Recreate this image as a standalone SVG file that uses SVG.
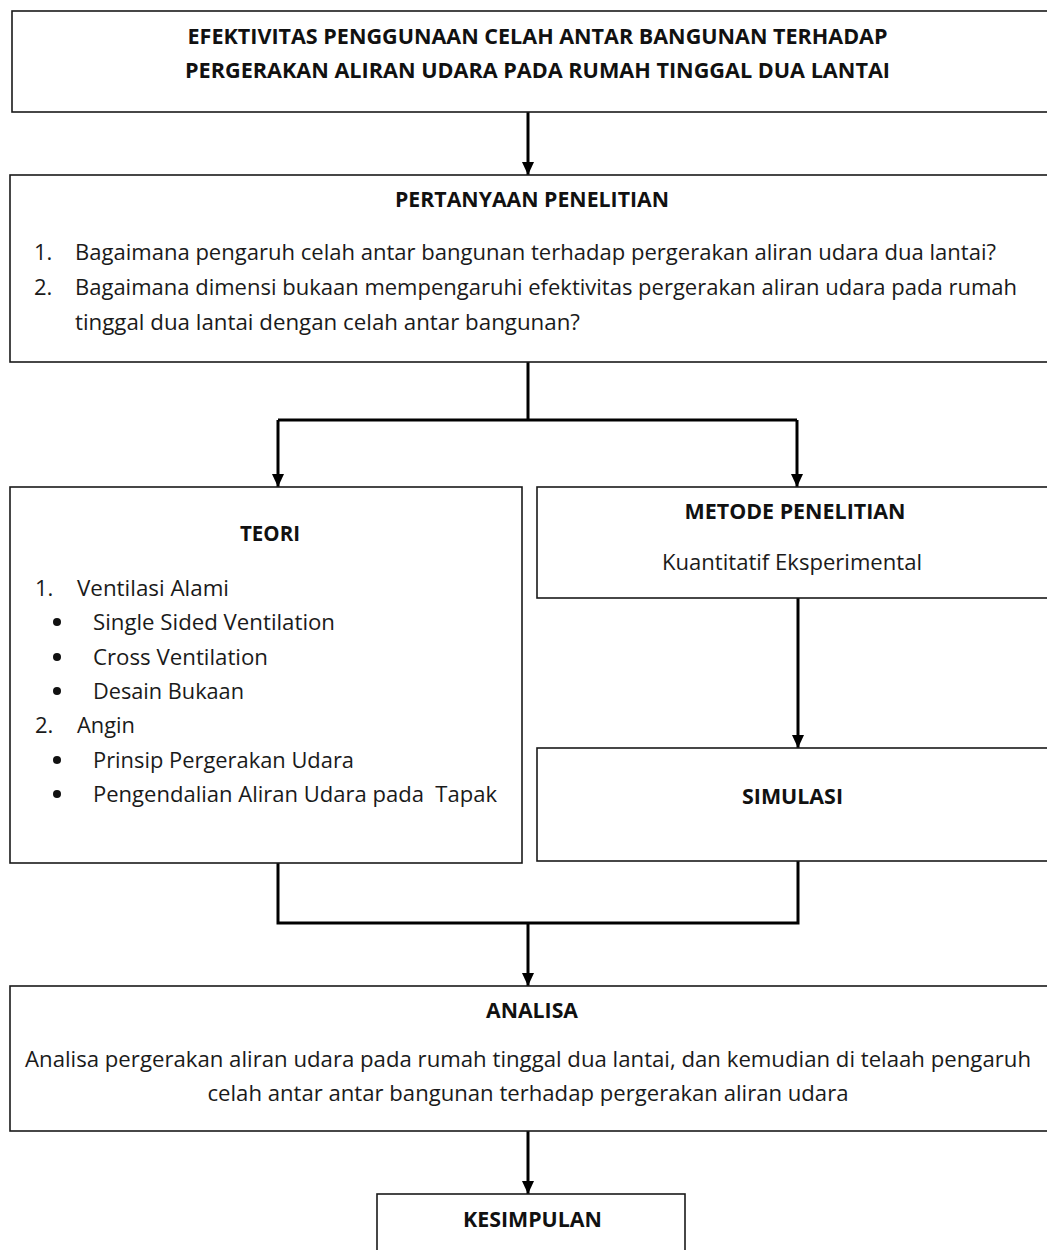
<svg xmlns="http://www.w3.org/2000/svg" width="1047" height="1250" viewBox="0 0 1047 1250">
<style>
.box{fill:#fff;stroke:#1a1a1a;stroke-width:1.6}
.con{fill:none;stroke:#000;stroke-width:3;stroke-linejoin:miter}
.t{font-family:"Open Sans","Noto Sans","Liberation Sans",sans-serif;font-size:22px;fill:#1a1a1a}
.b{font-weight:bold;fill:#111}
.c{text-anchor:middle}
</style>
<defs>
<marker id="ah" markerUnits="userSpaceOnUse" markerWidth="12" markerHeight="13" viewBox="0 0 12 13" refX="6" refY="13" orient="0">
<path d="M0,0 L12,0 L6,13 z" fill="#000"/>
</marker>
</defs>
<rect width="1047" height="1250" fill="#fff"/>

<g id="connectors">
<path class="con" d="M528,112 V175" marker-end="url(#ah)"/>
<path class="con" d="M528,362 V420 M278,420 H797"/>
<path class="con" d="M278,420 V487" marker-end="url(#ah)"/>
<path class="con" d="M797,420 V487" marker-end="url(#ah)"/>
<path class="con" d="M798,598 V748" marker-end="url(#ah)"/>
<path class="con" d="M278,863 V923 H798 V861"/>
<path class="con" d="M528,923 V986" marker-end="url(#ah)"/>
<path class="con" d="M528,1131 V1194" marker-end="url(#ah)"/>
</g>

<g id="judul">
<rect class="box" x="12" y="11" width="1050" height="101"/>
<text class="t b c" x="537.5" y="44" textLength="700" lengthAdjust="spacingAndGlyphs">EFEKTIVITAS PENGGUNAAN CELAH ANTAR BANGUNAN TERHADAP</text>
<text class="t b c" x="537.5" y="78" textLength="705" lengthAdjust="spacingAndGlyphs">PERGERAKAN ALIRAN UDARA PADA RUMAH TINGGAL DUA LANTAI</text>
</g>

<g id="pertanyaan">
<rect class="box" x="10" y="175" width="1052" height="187"/>
<text class="t b c" x="532" y="207" textLength="274" lengthAdjust="spacingAndGlyphs">PERTANYAAN PENELITIAN</text>
<text class="t" x="34" y="260">1.</text>
<text class="t" x="75" y="260" textLength="921" lengthAdjust="spacingAndGlyphs">Bagaimana pengaruh celah antar bangunan terhadap pergerakan aliran udara dua lantai?</text>
<text class="t" x="34" y="295">2.</text>
<text class="t" x="75" y="295" textLength="942" lengthAdjust="spacingAndGlyphs">Bagaimana dimensi bukaan mempengaruhi efektivitas pergerakan aliran udara pada rumah</text>
<text class="t" x="75" y="330" textLength="505" lengthAdjust="spacingAndGlyphs">tinggal dua lantai dengan celah antar bangunan?</text>
</g>

<g id="teori">
<rect class="box" x="10" y="487" width="512" height="376"/>
<text class="t b c" x="270" y="541" textLength="60" lengthAdjust="spacingAndGlyphs">TEORI</text>
<text class="t" x="35" y="596">1.</text>
<text class="t" x="77" y="596" textLength="152" lengthAdjust="spacingAndGlyphs">Ventilasi Alami</text>
<circle cx="57" cy="622" r="4" fill="#111"/>
<text class="t" x="93" y="630" textLength="242" lengthAdjust="spacingAndGlyphs">Single Sided Ventilation</text>
<circle cx="57" cy="657" r="4" fill="#111"/>
<text class="t" x="93" y="665" textLength="175" lengthAdjust="spacingAndGlyphs">Cross Ventilation</text>
<circle cx="57" cy="691" r="4" fill="#111"/>
<text class="t" x="93" y="699" textLength="151" lengthAdjust="spacingAndGlyphs">Desain Bukaan</text>
<text class="t" x="35" y="733">2.</text>
<text class="t" x="77" y="733" textLength="58" lengthAdjust="spacingAndGlyphs">Angin</text>
<circle cx="57" cy="760" r="4" fill="#111"/>
<text class="t" x="93" y="768" textLength="261" lengthAdjust="spacingAndGlyphs">Prinsip Pergerakan Udara</text>
<circle cx="57" cy="794" r="4" fill="#111"/>
<text class="t" x="93" y="802" textLength="404" lengthAdjust="spacingAndGlyphs" xml:space="preserve">Pengendalian Aliran Udara pada  Tapak</text>
</g>

<g id="metode">
<rect class="box" x="537" y="487" width="525" height="111"/>
<text class="t b c" x="795" y="519" textLength="221" lengthAdjust="spacingAndGlyphs">METODE PENELITIAN</text>
<text class="t c" x="792" y="570" textLength="260" lengthAdjust="spacingAndGlyphs">Kuantitatif Eksperimental</text>
</g>

<g id="simulasi">
<rect class="box" x="537" y="748" width="525" height="113"/>
<text class="t b c" x="792.5" y="804" textLength="101" lengthAdjust="spacingAndGlyphs">SIMULASI</text>
</g>

<g id="analisa">
<rect class="box" x="10" y="986" width="1052" height="145"/>
<text class="t b c" x="532" y="1018" textLength="92" lengthAdjust="spacingAndGlyphs">ANALISA</text>
<text class="t c" x="528" y="1067" textLength="1006" lengthAdjust="spacingAndGlyphs">Analisa pergerakan aliran udara pada rumah tinggal dua lantai, dan kemudian di telaah pengaruh</text>
<text class="t c" x="528" y="1101" textLength="641" lengthAdjust="spacingAndGlyphs">celah antar antar bangunan terhadap pergerakan aliran udara</text>
</g>

<g id="kesimpulan">
<rect class="box" x="377" y="1194" width="308" height="80"/>
<text class="t b c" x="532.5" y="1227" textLength="139" lengthAdjust="spacingAndGlyphs">KESIMPULAN</text>
</g>
</svg>
